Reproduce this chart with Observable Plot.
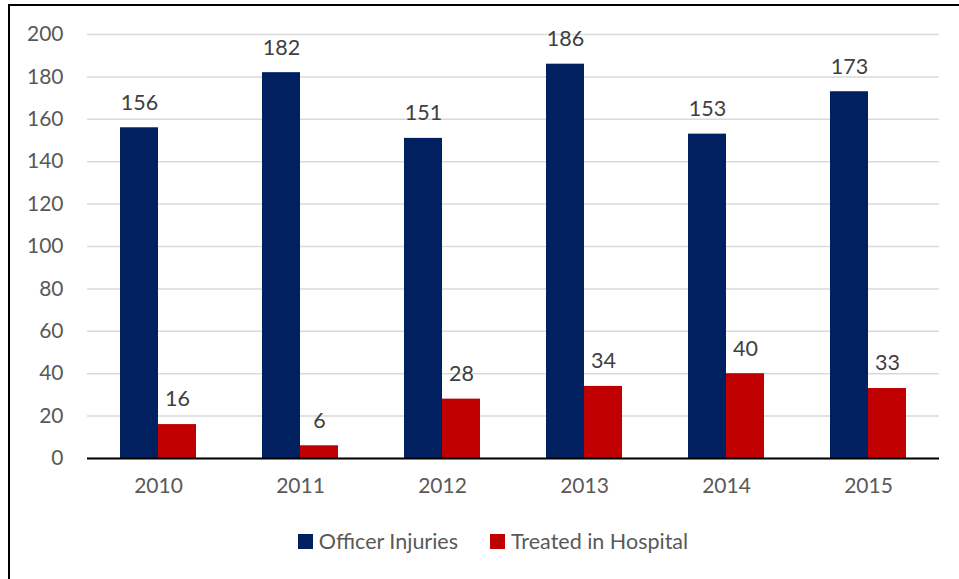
<!DOCTYPE html>
<html>
<head>
<meta charset="utf-8">
<script src="https://cdn.jsdelivr.net/npm/d3@7"></script>
<script src="https://cdn.jsdelivr.net/npm/@observablehq/plot@0.6"></script>
<style>
  html, body { margin: 0; padding: 0; background: #fff; overflow: hidden; }
  body { width: 959px; height: 579px; position: relative; font-family: Lato, "Open Sans", sans-serif; }
  #frame { position: absolute; left: 8px; top: 4px; width: 1200px; height: 800px; border: 2px solid #000; box-sizing: border-box; pointer-events: none; }
  #chart { position: absolute; left: 0; top: 0; }
  #legend { position: absolute; left: 0; top: 528px; width: 986px; display: flex; justify-content: center; gap: 32px; font-size: 21.5px; color: #595959; }
  .item { display: flex; align-items: center; gap: 6px; }
  .sw { width: 15px; height: 15px; display: inline-block; }
</style>
</head>
<body>
<div id="chart"></div>
<div id="legend"></div>
<div id="frame"></div>
<script>
const years = ["2010", "2011", "2012", "2013", "2014", "2015"];
const series = ["Officer Injuries", "Treated in Hospital"];
const injuries = [156, 182, 151, 186, 153, 173];
const hospital = [16, 6, 28, 34, 40, 33];
const colors = ["#002060", "#C00000"];
const yTicks = [0, 20, 40, 60, 80, 100, 120, 140, 160, 180, 200];

const rows = [];
years.forEach((yr, i) => {
  rows.push({year: yr, series: series[0], value: injuries[i]});
  rows.push({year: yr, series: series[1], value: hospital[i]});
});

const chart = Plot.plot({
  width: 959,
  height: 510,
  marginLeft: 86,
  marginRight: 19,
  marginTop: 34,
  marginBottom: 52,
  style: {fontFamily: "Lato, 'Open Sans', sans-serif", fontSize: "21px", color: "#595959", background: "transparent"},
  fx: {domain: years, padding: 0, label: null, tickSize: 0, tickPadding: 20, axis: "bottom"},
  x: {domain: series, paddingInner: 0, paddingOuter: 0.85, axis: null},
  y: {domain: [0, 200], ticks: yTicks, label: null, tickSize: 0, tickPadding: 24},
  color: {domain: series, range: colors},
  marks: [
    Plot.gridY(yTicks, {stroke: "#d9d9d9", strokeOpacity: 1, strokeWidth: 1.5}),
    Plot.barY(rows, {fx: "year", x: "series", y: "value", fill: "series"}),
    Plot.ruleY([0], {stroke: "#000", strokeWidth: 2}),
    Plot.text(rows, {fx: "year", x: "series", y: "value", text: d => String(d.value), dy: -25, fill: "#404040", fontSize: 21.5})
  ]
});
document.getElementById("chart").appendChild(chart);

const legend = document.getElementById("legend");
series.forEach((s, i) => {
  const item = document.createElement("div");
  item.className = "item";
  const sw = document.createElement("span");
  sw.className = "sw";
  sw.style.background = colors[i];
  const label = document.createElement("span");
  label.textContent = s;
  item.appendChild(sw);
  item.appendChild(label);
  legend.appendChild(item);
});
</script>
</body>
</html>
